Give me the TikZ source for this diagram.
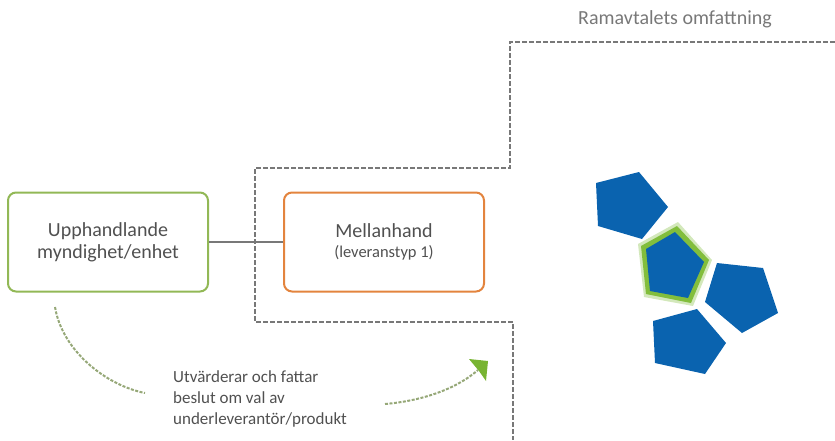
\documentclass[tikz,border=0pt]{standalone}
\usepackage{fontspec}
\setmainfont{Carlito}

\definecolor{boxgreen}{RGB}{146,184,86}
\definecolor{boxorange}{RGB}{227,132,62}
\definecolor{dashgray}{RGB}{120,120,120}
\definecolor{textgray}{RGB}{80,80,80}
\definecolor{arcgreen}{RGB}{150,168,120}
\definecolor{tipgreen}{RGB}{120,180,50}
\definecolor{pentblue}{RGB}{10,99,175}
\definecolor{rimgreen}{RGB}{130,190,60}

\tikzset{
    rolebox/.style={draw, line width=2pt, rounded corners=8pt, minimum width=200pt,
        minimum height=99pt, align=center, text=textgray, font=\fontsize{20}{22}\selectfont},
    scopeline/.style={draw=dashgray, line width=2.6pt, dash pattern=on 5pt off 2pt},
    choicearc/.style={draw=arcgreen, line width=2pt, dash pattern=on 3pt off 1.5pt},
    bluepent/.style={fill=pentblue},
}

\begin{document}
\begin{tikzpicture}[x=1pt, y=-1pt]
    \useasboundingbox (0,0) rectangle (835,440);
    % parties
    \node[rolebox, draw=boxgreen] (upph) at (108,242) {Upphandlande\\myndighet/enhet};
    \node[rolebox, draw=boxorange] (mellan) at (384,242)
        {Mellanhand\\[-2pt]{\fontsize{16.5}{20}\selectfont(leveranstyp 1)}};
    \draw[dashgray, line width=1.2pt] (upph) -- (mellan);
    % framework boundary
    \draw[scopeline] (835,42) -- (510,42) -- (510,168) -- (255,168) -- (255,322)
        -- (513,322) -- (513,440);
    \node[text=dashgray, font=\fontsize{20}{22}\selectfont] (ramtitle) at (675,19) {Ramavtalets omfattning};
    % choice text and arcs
    \node[text=textgray, align=left, anchor=north west, inner sep=0pt,
        font=\fontsize{17}{21}\selectfont] (beslut) at (173,370)
        {Utvärderar och fattar\\beslut om val av\\underleverantör/produkt};
    \coordinate (arcA1) at (55,307);
    \coordinate (arcA2) at (145,393);
    \coordinate (arcB1) at (385,404);
    \coordinate (arcB2) at (478,370);
    \draw[choicearc] (arcA1) .. controls (62,350) and (105,385) .. (arcA2);
    \draw[choicearc] (arcB1) .. controls (420,401) and (455,390) .. (arcB2);
    \fill[tipgreen] (469,359) -- (488,361) -- (486,381) -- (479,371) -- cycle;
    % suppliers
    \fill[bluepent] (596,183) -- (639,172) -- (668,207) -- (642,239) -- (598,226) -- cycle;
    \fill[rimgreen!35] (678,222) -- (712,260) -- (693,306) -- (644,297) -- (638,244) -- cycle;
    \fill[rimgreen] (677,226) -- (709,260) -- (691,303) -- (646,294) -- (641,246) -- cycle;
    \fill[bluepent] (675,232) -- (704,262) -- (688,298) -- (650,291) -- (646,249) -- cycle;
    \fill[bluepent] (717,263) -- (763,268) -- (778,313) -- (742,333) -- (705,302) -- cycle;
    \fill[bluepent] (653,321) -- (697,309) -- (726,343) -- (705,374) -- (655,363) -- cycle;
\end{tikzpicture}
\end{document}
